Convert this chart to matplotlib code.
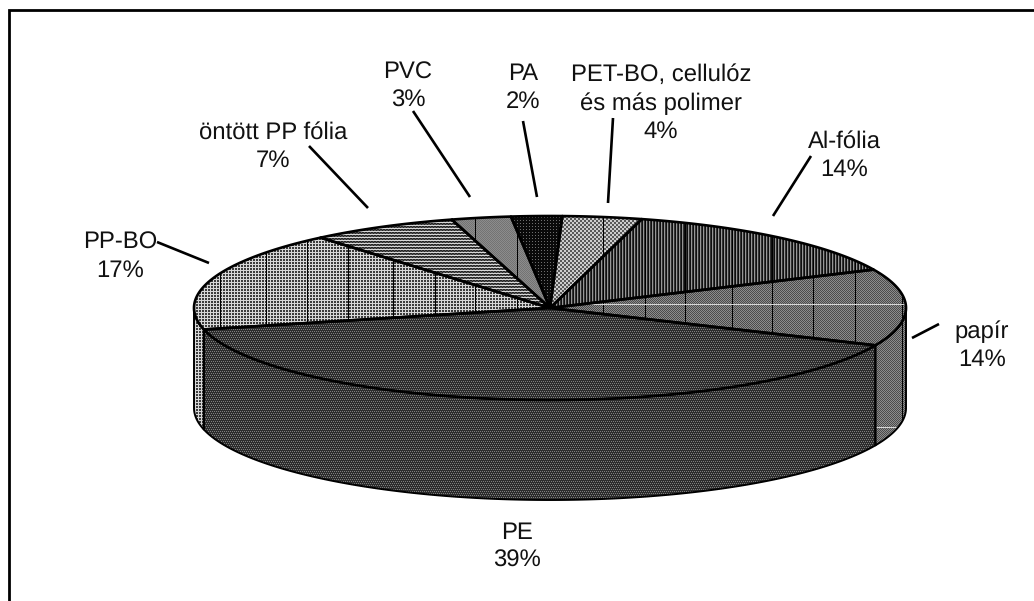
import numpy as np
import matplotlib
matplotlib.use("Agg")
import matplotlib.pyplot as plt
from matplotlib.patches import Polygon

plt.rcParams['font.family'] = ['Liberation Sans', 'DejaVu Sans']
plt.rcParams['text.hinting'] = 'none'

# Slices in drawing order, counter-clockwise from the PE edge
names = ['PE', 'papír', 'Al-fólia', 'PET-BO, cellulóz\nés más polimer', 'PA', 'PVC',
         'öntött PP fólia', 'PP-BO']
percent_labels = [39, 14, 14, 4, 2, 3, 7, 17]
# shares estimated from the slice edges in the picture (labels are rounded)
shares = [39.6, 13.5, 14.0, 3.6, 2.3, 2.7, 6.7, 17.6]

W, H = 1034, 601
CX, CY, RX, RY, DEPTH = 550, 308, 356, 92, 100
START = 193.5

# pixel tiles for the old-style fill patterns
tiles = {
    'PE': [[45, 45, 45, 45], [45, 125, 45, 125], [45, 45, 45, 45], [125, 45, 125, 45]],
    'papír': [[75, 140], [140, 75]],
    'Al-fólia': [[15, 150, 50]],
    'PET-BO, cellulóz\nés más polimer': [[90, 90, 205, 205], [90, 90, 205, 205],
                                         [205, 205, 90, 90], [205, 205, 90, 90]],
    'PA': [[10, 10, 10], [10, 110, 10], [10, 10, 10]],
    'PVC': [[115, 140], [140, 115]],
    'öntött PP fólia': [[215, 215, 215], [35, 90, 35], [90, 35, 90]],
    'PP-BO': [[215, 215, 215], [215, 60, 60], [215, 60, 60]],
}
# thin vertical seams that run through most of the fills
seams = [220, 266, 307, 348, 393, 435, 475, 517, 603, 645, 685, 732, 772, 813, 855, 902]
seam_free = ['PE', 'PA', 'öntött PP fólia']

# label placement: centre x and baseline y of the last line
label_pos = {
    'PE': (517, 567), 'papír': (982, 366), 'Al-fólia': (844, 176),
    'PET-BO, cellulóz\nés más polimer': (661, 138), 'PA': (523, 108), 'PVC': (408, 107),
    'öntött PP fólia': (273, 167), 'PP-BO': (120, 277),
}
leaders = [
    ((157, 242), (209, 263)), ((309, 146), (368, 208)), ((413, 111), (470, 197)),
    ((523, 121), (537, 197)), ((613, 118), (608, 203)), ((811, 156), (773, 216)),
    ((939, 324), (912, 338)),
]


def ell(t, dy=0):
    t = np.radians(t)
    return np.column_stack([CX + RX * np.cos(t), CY - RY * np.sin(t) + dy])


def texture(name):
    tile = np.array(tiles[name], dtype=float)
    rows = H // tile.shape[0] + 1
    cols = W // tile.shape[1] + 1
    img = np.tile(tile, (rows, cols))[:H, :W]
    if name not in seam_free:
        img[:, seams] = 0
    if name == 'papír':
        img[[304, 427], :] = 215
    return img


def fill(ax, pts, name, lw):
    patch = Polygon(pts, closed=True, facecolor='none', edgecolor='none')
    ax.add_patch(patch)
    im = ax.imshow(texture(name), cmap='gray', vmin=0, vmax=255, extent=(0, W, H, 0),
                   interpolation='nearest', zorder=2)
    im.set_clip_path(patch)
    ax.add_patch(Polygon(pts, closed=True, facecolor='none', edgecolor='black',
                         linewidth=lw, joinstyle='round', zorder=3))


fig = plt.figure(figsize=(W / 100, H / 100), dpi=100)
ax = fig.add_axes([0, 0, 1, 1])

sweep = np.array(shares) / sum(shares) * 360
edges = START + np.concatenate([[0], np.cumsum(sweep)])

# side wall first, only the part of the rim that faces the viewer
for i, name in enumerate(names):
    for k in (0, 360):
        a = max(edges[i], 180 + k)
        b = min(edges[i + 1], 360 + k)
        if b > a:
            t = np.linspace(a, b, 200)
            pts = np.vstack([ell(t), ell(t[::-1], DEPTH)])
            fill(ax, pts, name, 1.4)

# top face
for i, name in enumerate(names):
    t = np.linspace(edges[i], edges[i + 1], 300)
    pts = np.vstack([[CX, CY], ell(t)])
    fill(ax, pts, name, 1.9)

for (x0, y0), (x1, y1) in leaders:
    ax.plot([x0, x1], [y0, y1], color='black', lw=1.9, zorder=4, solid_capstyle='butt')

for name, pct in zip(names, percent_labels):
    x, y = label_pos[name]
    ax.text(x, y, f"{name}\n{pct}%", ha='center', va='baseline', multialignment='center',
            fontsize=17.2, linespacing=1.35, color='#111111', zorder=5)

# chart border, cut off at the right and bottom of the picture
ax.plot([8.8, 8.8, W], [H, 10, 10], color='black', lw=2.0, zorder=6,
        solid_joinstyle='miter')

ax.set_xlim(0, W)
ax.set_ylim(H, 0)
ax.axis('off')
fig.savefig('out.png', dpi=100, facecolor='white')
